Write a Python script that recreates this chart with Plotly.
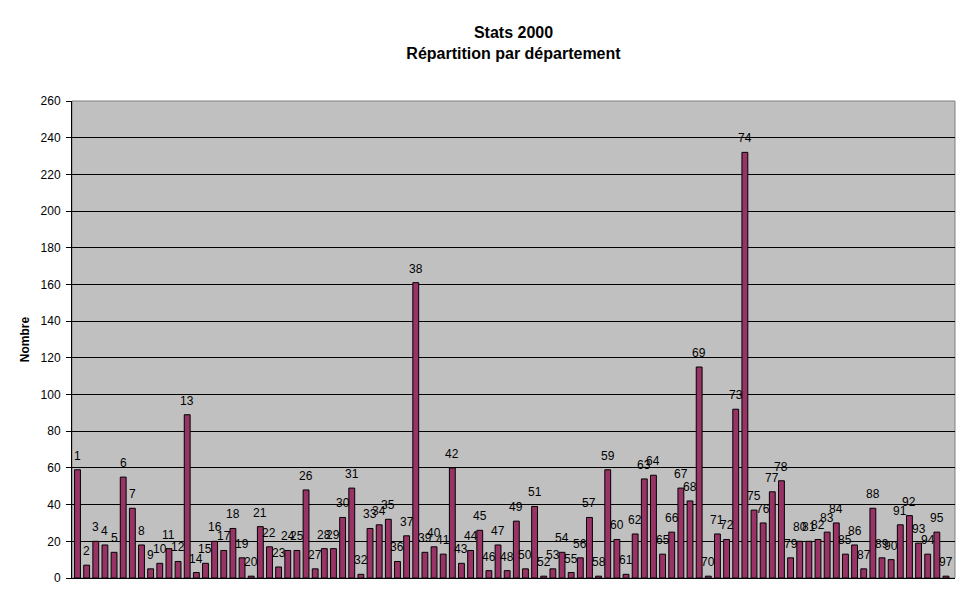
import plotly.graph_objects as go

departements = [str(i) for i in range(1, 96)] + ["97"]
nombre = [
    59, 7, 20, 18, 14, 55, 38, 18, 5, 8,
    16, 9, 89, 3, 8, 20, 15, 27, 11, 1,
    28, 17, 6, 15, 15, 48, 5, 16, 16, 33,
    49, 2, 27, 29, 32, 9, 23, 161, 14, 17,
    13, 60, 8, 15, 26, 4, 18, 4, 31, 5,
    39, 1, 5, 14, 3, 11, 33, 1, 59, 21,
    2, 24, 54, 56, 13, 25, 49, 42, 115, 1,
    24, 21, 92, 232, 37, 30, 47, 53, 11, 20,
    20, 21, 25, 30, 13, 18, 5, 38, 11, 10,
    29, 34, 19, 13, 25, 1,
]
y_ticks = list(range(0, 261, 20))

FONT = "Liberation Sans, Arial"

fig = go.Figure()
fig.add_trace(go.Bar(
    x=departements,
    y=nombre,
    marker=dict(color="#993366", line=dict(color="black", width=1)),
    hoverinfo="x+y",
))

# on a category axis, annotation x is given as the category's index
annotations = [
    dict(x=i, y=v, xref="x", yref="y", text=d, showarrow=False,
         xanchor="center", yanchor="bottom", yshift=5,
         font=dict(family=FONT, size=12, color="black"))
    for i, (d, v) in enumerate(zip(departements, nombre))
]

fig.update_layout(
    width=970, height=604,
    paper_bgcolor="white",
    plot_bgcolor="#C0C0C0",
    margin=dict(l=64, r=23, t=93, b=34),
    bargap=0.36,
    showlegend=False,
    font=dict(family=FONT, size=12, color="black"),
    title=dict(
        text="<b>Stats 2000</b><br><b>Répartition par département</b>",
        x=0.5, xanchor="center", xref="paper",
        y=0.950, yanchor="top", yref="container",
        font=dict(family=FONT, size=16, color="black"),
    ),
    annotations=annotations,
    shapes=[dict(type="rect", xref="paper", yref="paper", x0=0, x1=1, y0=0, y1=1,
                 line=dict(color="#808080", width=1), layer="below")],
)
fig.update_xaxes(
    type="category",
    showticklabels=False,
    showgrid=False,
    showline=True, linecolor="black", linewidth=1,
    ticks="",
)
fig.update_yaxes(
    range=[0, 260],
    tickvals=y_ticks,
    ticks="outside", ticklen=5, tickcolor="black",
    ticklabelstandoff=3,
    showline=True, linecolor="black", linewidth=1,
    showgrid=True, gridcolor="black", gridwidth=1,
    zeroline=False,
    tickfont=dict(family=FONT, size=12, color="black"),
    title=dict(text="<b>Nombre</b>", font=dict(family=FONT, size=12, color="black"), standoff=8),
)

fig.write_html("out.html")
